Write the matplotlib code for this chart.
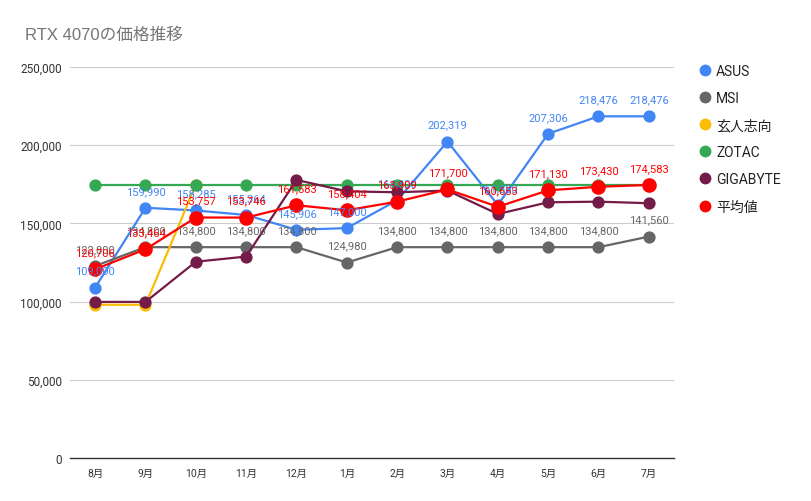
import numpy as np
import matplotlib
matplotlib.use("Agg")
import matplotlib.pyplot as plt
from matplotlib.lines import Line2D

plt.rcParams['font.family'] = ['Roboto', 'Noto Sans CJK JP', 'DejaVu Sans']

months = ['8月', '9月', '10月', '11月', '12月', '1月', '2月', '3月', '4月', '5月', '6月', '7月']

asus = [109000, 159990, 158285, 155364, 145906, 147000, 164800, 202319, 161800, 207306, 218476, 218476]
msi = [122800, 134800, 134800, 134800, 134800, 124980, 134800, 134800, 134800, 134800, 134800, 141560]
kuroshikou = [97980, 97980, 174800, np.nan, np.nan, np.nan, np.nan, np.nan, np.nan, np.nan, np.nan, np.nan]
zotac = [174800] * 12
gigabyte = [99800, 99800, 125500, 128800, 177800, 170500, 169900, 171000, 156000, 163500, 163900, 162900]
average = [120706, 133464, 153757, 153746, 161583, 158404, 163909, 171700, 160653, 171130, 173430, 174583]

series = [
    ('ASUS', asus, '#4285f4', True),
    ('MSI', msi, '#666666', True),
    ('玄人志向', kuroshikou, '#fbbc04', False),
    ('ZOTAC', zotac, '#34a853', False),
    ('GIGABYTE', gigabyte, '#741b47', False),
    ('平均値', average, '#ff0000', True),
]

W, H = 812, 502
fig = plt.figure(figsize=(W / 100, H / 100), dpi=100)
ax = fig.add_axes([70 / W, (H - 459) / H, 604 / W, (459 - 68) / H])

x = np.arange(len(months))
for name, vals, color, _ in series:
    ms = 9.5 if name == '平均値' else 7.8
    ax.plot(x, vals, '-o', color=color, lw=1.6, ms=ms, label=name, zorder=3)

# data labels on top of all lines
for name, vals, color, labelled in series:
    if not labelled:
        continue
    for xi, v in zip(x, vals):
        if np.isnan(v):
            continue
        ax.annotate(f'{int(v):,}', (xi, v), textcoords='offset pixels', xytext=(0, 12),
                    ha='center', va='bottom', fontsize=8, color=color, zorder=5)

ax.set_xlim(-0.5, 11.5)
ax.set_ylim(0, 250000)
ax.set_yticks(np.arange(0, 250001, 50000))
ax.set_yticklabels([f'{v:,}' for v in range(0, 250001, 50000)])
ax.set_xticks(x)
ax.set_xticklabels(months)
ax.tick_params(axis='y', length=0, labelsize=8.5, labelcolor='#333333', pad=6)
ax.tick_params(axis='x', length=0, labelsize=7.5, labelcolor='#333333', pad=7)
ax.grid(axis='y', color='#cccccc', lw=0.8)
ax.set_axisbelow(True)
for s in ['top', 'right', 'left']:
    ax.spines[s].set_visible(False)
ax.spines['bottom'].set_color('#333333')
ax.spines['bottom'].set_linewidth(1)

fig.text(25 / W, 1 - 35 / H, 'RTX 4070の価格推移', fontsize=12, color='#757575', va='center', ha='left',
         family=['Liberation Sans', 'Noto Sans CJK JP'])

handles = [Line2D([], [], marker='o', ls='', color=c, ms=7.5) for _, _, c, _ in series]
fig.legend(handles, [n for n, _, _, _ in series], loc='upper left',
           bbox_to_anchor=(684 / W, 1 - 52 / H), frameon=False, fontsize=10,
           handletextpad=0.2, labelspacing=0.95, handlelength=1.2, labelcolor='#222222')

fig.savefig('out.png', dpi=100, facecolor='white')
